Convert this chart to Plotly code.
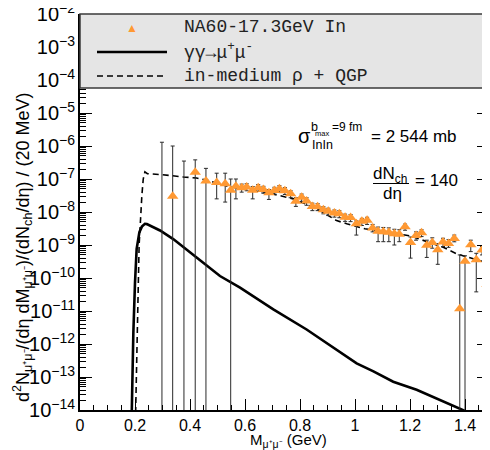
import plotly.graph_objects as go

# ---------------- data ----------------
mass = [0.337, 0.419, 0.458, 0.497, 0.528, 0.548, 0.567, 0.588, 0.606, 0.628,
        0.648, 0.667, 0.687, 0.707, 0.725, 0.745, 0.766, 0.785, 0.806, 0.824,
        0.845, 0.864, 0.885, 0.903, 0.925, 0.943, 0.964, 0.984, 1.005, 1.025,
        1.044, 1.064, 1.084, 1.103, 1.123, 1.143, 1.161, 1.182, 1.202, 1.222,
        1.242, 1.261, 1.281, 1.301, 1.320, 1.340, 1.361, 1.381, 1.400, 1.421,
        1.441, 1.462, 1.480]
yield_na60 = [3.0e-8, 1.6e-7, 8.7e-8, 7.9e-8, 7.2e-8, 4.6e-8, 6.0e-8, 5.4e-8, 5.75e-8, 4.6e-8,
              5.4e-8, 4.8e-8, 3.8e-8, 4.5e-8, 5.1e-8, 4.4e-8, 3.55e-8, 2.1e-8, 2.8e-8, 2.15e-8,
              1.48e-8, 1.45e-8, 1.17e-8, 1.05e-8, 9.3e-9, 8.9e-9, 6.9e-9, 6.8e-9, 4.4e-9, 5.2e-9,
              5.6e-9, 3.3e-9, 2.6e-9, 2.5e-9, 2.45e-9, 2.2e-9, 2.1e-9, 3.6e-9, 1.2e-9, 1.95e-9,
              2.35e-9, 9.8e-10, 1.2e-9, 7.2e-10, 1.23e-9, 1.12e-9, 1.58e-9, 1.17e-11, 3.2e-10, 1.02e-9,
              3.6e-10, 7.1e-10, 6.3e-11]
upper_bound = [1.0e-6, 3.8e-7, 2.1e-7, 1.5e-7, 1.5e-7, 1.0e-7, 1.0e-7, 7.0e-8, 7.2e-8, 5.9e-8,
               6.8e-8, 6.0e-8, 4.8e-8, 5.6e-8, 6.3e-8, 5.5e-8, 4.4e-8, 2.7e-8, 3.5e-8, 2.7e-8,
               1.85e-8, 1.8e-8, 1.45e-8, 1.3e-8, 1.15e-8, 1.1e-8, 8.6e-9, 8.4e-9, 5.4e-9, 6.4e-9,
               6.9e-9, 4.2e-9, 3.5e-9, 3.4e-9, 3.3e-9, 3.0e-9, 2.9e-9, 4.3e-9, 1.75e-9, 2.5e-9,
               2.9e-9, 1.4e-9, 1.65e-9, 1.1e-9, 1.6e-9, 1.45e-9, 2.0e-9, 5.0e-10, 4.7e-10, 1.4e-9,
               5.6e-10, 9.0e-10, 1.1e-10]
# 0 means the lower error reaches below the axis
lower_bound = [0, 0, 0, 2.5e-8, 2.0e-8, 0, 2.5e-8, 4.0e-8, 4.4e-8, 2.5e-8,
               4.2e-8, 3.7e-8, 2.4e-8, 3.5e-8, 4.0e-8, 3.4e-8, 2.7e-8, 1.48e-8, 2.1e-8, 1.6e-8,
               1.1e-8, 1.1e-8, 8.8e-9, 7.8e-9, 7.0e-9, 6.7e-9, 5.2e-9, 5.1e-9, 2.0e-9, 3.9e-9,
               4.2e-9, 2.5e-9, 1.26e-9, 1.26e-9, 1.26e-9, 1.0e-9, 1.26e-9, 2.8e-9, 4.0e-10, 1.4e-9,
               1.8e-9, 4.2e-10, 8.0e-10, 2.6e-10, 9.0e-10, 8.5e-10, 1.25e-9, 0, 0, 6.3e-10,
               3.8e-11, 5.0e-10, 3.5e-11]
# bins whose central value is off the log scale: only the error bar shows
hidden_mass = [0.298, 0.378]
hidden_upper = [1.3e-6, 3.5e-7]

rho_qgp_mass = [0.200, 0.204, 0.210, 0.215, 0.220, 0.225, 0.230, 0.236, 0.245, 0.300,
                0.376, 0.424, 0.460, 0.545, 0.667, 0.727, 0.776, 0.861, 0.933, 0.970,
                1.036, 1.200, 1.321, 1.370, 1.455, 1.490]
rho_qgp_yield = [1e-15, 1e-13, 1e-11, 1e-9, 1e-8, 3.2e-8, 1.0e-7, 1.65e-7, 1.45e-7, 1.35e-7,
                 1.15e-7, 1.07e-7, 9.3e-8, 5.8e-8, 4.1e-8, 3.2e-8, 2.5e-8, 1.26e-8, 5.5e-9, 4.4e-9,
                 3.1e-9, 1.9e-9, 8.5e-10, 5.4e-10, 3.3e-10, 2.95e-10]

gg_mass = [0.186, 0.190, 0.194, 0.200, 0.206, 0.216, 0.225, 0.236, 0.243, 0.291,
           0.339, 0.424, 0.509, 0.582, 0.703, 0.824, 0.897, 1.006, 1.067, 1.139,
           1.224, 1.309, 1.382, 1.420]
gg_yield = [1e-15, 1e-13, 2.2e-12, 7.2e-11, 7.6e-10, 2.45e-9, 3.6e-9, 4.4e-9, 4.3e-9, 2.75e-9,
            1.51e-9, 4.2e-10, 1.15e-10, 5.1e-11, 1.12e-11, 2.75e-12, 1.05e-12, 2.6e-13, 1.48e-13, 7.2e-14,
            4.1e-14, 2.0e-14, 1.12e-14, 7.9e-15]

x_ticks = [0, 0.2, 0.4, 0.6, 0.8, 1.0, 1.2, 1.4]
legend_labels = ["NA60-17.3GeV In", "γγ→μ<sup>+</sup>μ<sup>-</sup>", "in-medium ρ + QGP"]

# ---------------- layout helpers ----------------
OFF = 8                      # page body margin in the browser
W, H = 490 - OFF, 450 - OFF
L, R, T, B = 80 - OFF, 1, 14 - OFF, 40
PW, PH = W - L - R, H - T - B
PLOT_LEFT, PLOT_BOTTOM = 80, 410     # absolute page pixels
def px(x):
    return (x - PLOT_LEFT) / PW
def py(y):
    return (PLOT_BOTTOM - y) / PH

FLOOR = 1e-16
err_plus = [u - y for u, y in zip(upper_bound, yield_na60)]
err_minus = [y - (lo if lo > 0 else FLOOR) for lo, y in zip(lower_bound, yield_na60)]

ORANGE = "#ff9933"
EBC = "#2a2a2a"

fig = go.Figure()
fig.add_trace(go.Scatter(x=rho_qgp_mass, y=rho_qgp_yield, mode="lines",
                         line=dict(color="black", width=1.6, dash="6px,4px"),
                         showlegend=False, hoverinfo="skip"))
fig.add_trace(go.Scatter(x=gg_mass, y=gg_yield, mode="lines",
                         line=dict(color="black", width=2.6),
                         showlegend=False, hoverinfo="skip"))
fig.add_trace(go.Scatter(x=hidden_mass, y=hidden_upper, mode="markers",
                         marker=dict(size=1, opacity=0),
                         error_y=dict(type="data", symmetric=False,
                                      array=[0 for _ in hidden_upper],
                                      arrayminus=[u - FLOOR for u in hidden_upper],
                                      color=EBC, thickness=1, width=2),
                         showlegend=False))
fig.add_trace(go.Scatter(x=mass, y=yield_na60, mode="markers",
                         marker=dict(symbol="triangle-up", size=10, color=ORANGE,
                                     line=dict(width=0)),
                         error_y=dict(type="data", symmetric=False, array=err_plus,
                                      arrayminus=err_minus, color=EBC, thickness=1, width=2),
                         error_x=dict(type="constant", value=0.01, color=EBC,
                                      thickness=1, width=0),
                         showlegend=False))

shapes = []
ann = []
# legend box
shapes.append(dict(type="rect", xref="paper", yref="paper", x0=0, x1=1,
                   y0=py(88), y1=1, fillcolor="#e5e5e5",
                   line=dict(color="#3a3a3a", width=1.5), layer="above"))
row_y = [27, 52, 76]
ann.append(dict(x=px(132), y=py(row_y[0]), text="▲", showarrow=False,
                xanchor="center", yanchor="middle",
                xref="paper", yref="paper", font=dict(size=12, color=ORANGE)))
shapes.append(dict(type="line", xref="paper", yref="paper", x0=px(97), x1=px(167),
                   y0=py(row_y[1]), y1=py(row_y[1]), line=dict(color="black", width=2.6),
                   layer="above"))
shapes.append(dict(type="line", xref="paper", yref="paper", x0=px(97), x1=px(167),
                   y0=py(row_y[2]), y1=py(row_y[2]),
                   line=dict(color="black", width=1.4, dash="6px,4px"), layer="above"))
for lab, ry in zip(legend_labels, row_y):
    ann.append(dict(x=px(182), y=py(ry), text=lab, showarrow=False,
                    xanchor="left", yanchor="middle",
                    xref="paper", yref="paper",
                    font=dict(family="Liberation Mono", size=18, color="#222")))

SANS = "Liberation Sans"
def label(x, y, text, size, xanchor="center"):
    ann.append(dict(x=px(x), y=py(y), text=text, showarrow=False, xanchor=xanchor,
                    yanchor="middle", xref="paper", yref="paper",
                    font=dict(family=SANS, size=size, color="black")))

# sigma annotation
label(304, 136, "σ", 20)
label(322, 145, "InIn", 12.5)
label(314, 127, "b", 12.5)
label(322, 133, "max", 7.5)
label(347, 127, "=9 fm", 12)
label(414, 137, "= 2 544 mb", 17)
# dN/deta fraction
label(390, 175, "dN<sub>ch</sub>", 17)
shapes.append(dict(type="line", xref="paper", yref="paper", x0=px(373), x1=px(409),
                   y0=py(183.5), y1=py(183.5), line=dict(color="black", width=1)))
label(392, 193, "dη", 17)
label(436, 180, "= 140", 17)

# axis titles
ann.append(dict(x=px(288), y=py(440), text="M<sub>μ⁺μ⁻</sub> (GeV)", showarrow=False,
                xref="paper", yref="paper", xanchor="center", yanchor="middle",
                font=dict(family=SANS, size=15, color="black")))
ann.append(dict(x=px(23), y=py(248), textangle=-90,
                text="d<sup>2</sup>N<sub>μ⁺μ⁻</sub>/(dη dM<sub>μ⁺μ⁻</sub>)/(dN<sub>ch</sub>/dη) / (20 MeV)",
                showarrow=False, xref="paper", yref="paper", xanchor="center", yanchor="middle",
                font=dict(family=SANS, size=18, color="black")))

fig.update_layout(
    width=W, height=H, margin=dict(l=L, r=R, t=T, b=B, pad=0, autoexpand=False),
    paper_bgcolor="white", plot_bgcolor="white",
    shapes=shapes, annotations=ann,
    xaxis=dict(range=[0, PW / 275], tickvals=x_ticks, ticks="inside", ticklen=11,
               tickwidth=1, tickcolor="black", showline=True, linecolor="black",
               linewidth=1.5, showgrid=False, zeroline=False, automargin=False,
               ticklabeloverflow="allow",
               tickfont=dict(family=SANS, size=16, color="black"),
               minor=dict(dtick=0.05, tick0=0, ticks="inside", ticklen=5,
                          tickcolor="black", showgrid=False)),
    yaxis=dict(type="log", range=[-14, -2], dtick=1, exponentformat="power",
               ticks="inside", ticklen=12, tickwidth=1, tickcolor="black",
               showline=True, linecolor="black", linewidth=1.5, mirror="ticks",
               showgrid=False, zeroline=False, automargin=False,
               ticklabeloverflow="allow",
               tickfont=dict(family=SANS, size=16, color="black"),
               minor=dict(dtick="D1", ticks="inside", ticklen=6, tickcolor="black",
                          showgrid=False)),
)

fig.write_html("out.html")
